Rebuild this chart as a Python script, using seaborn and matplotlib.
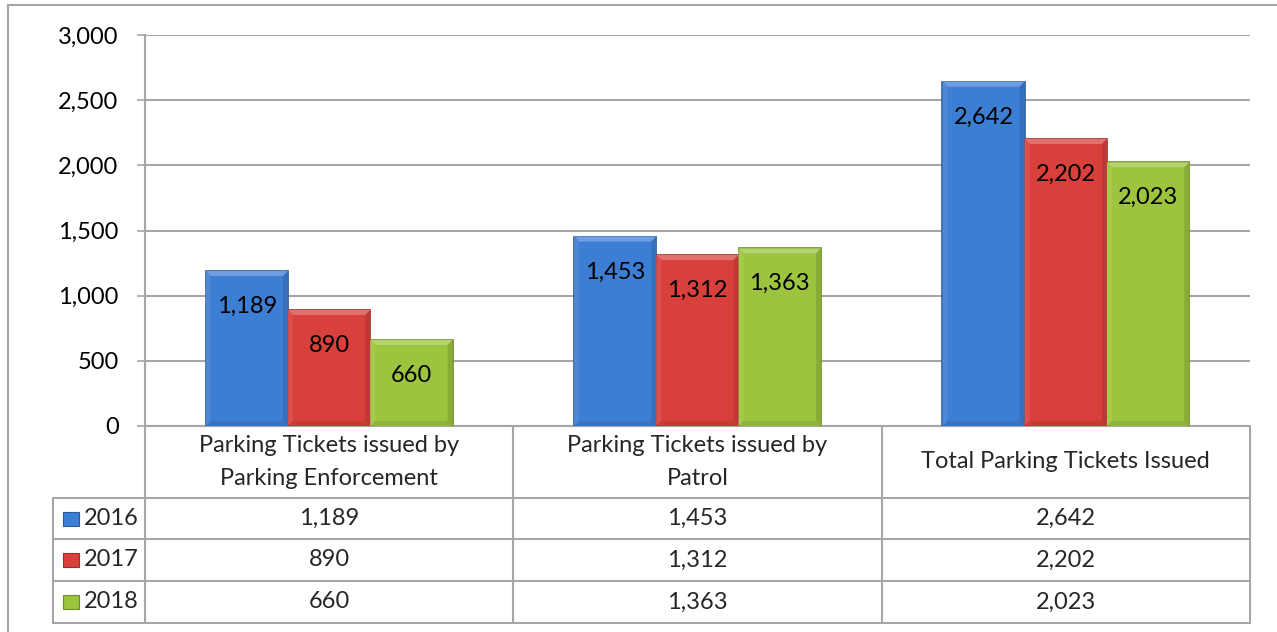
import matplotlib
matplotlib.use('Agg')
import matplotlib.pyplot as plt
import matplotlib.transforms as mtransforms
from matplotlib.patches import Rectangle, Polygon
from matplotlib.lines import Line2D
from matplotlib.ticker import FuncFormatter
import matplotlib.colors as mcolors
import pandas as pd
import seaborn as sns

categories = ['Parking Tickets issued by\nParking Enforcement',
              'Parking Tickets issued by\nPatrol',
              'Total Parking Tickets Issued']
years = ['2016', '2017', '2018']
values_2016 = [1189, 1453, 2642]
values_2017 = [890, 1312, 2202]
values_2018 = [660, 1363, 2023]
y_ticks = [0, 500, 1000, 1500, 2000, 2500, 3000]

series = {'2016': values_2016, '2017': values_2017, '2018': values_2018}
face_colors = ['#3d7ed5', '#d8403c', '#9cc43e']
edge_colors = ['#2b5a9a', '#9b2d2a', '#6d8c2b']
line_gray = '#a6a6a6'
FS = 17

rows = []
for year in years:
    for cat, val in zip(categories, series[year]):
        rows.append({'Category': cat, 'Year': year, 'Tickets': val})
df = pd.DataFrame(rows)

sns.set_theme(style='white')
plt.rcParams['font.family'] = ['Lato', 'DejaVu Sans']

W, H = 1277, 632
fig = plt.figure(figsize=(W / 100, H / 100), dpi=100)
ax = fig.add_axes([145 / W, 1 - 426 / H, 1105 / W, 391 / H])

sns.barplot(data=df, x='Category', y='Tickets', hue='Year', hue_order=years,
            palette=face_colors, saturation=1, width=0.67, gap=0,
            legend=False, ax=ax, zorder=3)


def shade(c, f):
    r, g, b = mcolors.to_rgb(c)
    if f > 0:
        return (r + (1 - r) * f, g + (1 - g) * f, b + (1 - b) * f)
    return (r * (1 + f), g * (1 + f), b * (1 + f))


# soft bevel: light top/left strip, darker right/bottom strip
bx = 5 / 1105 * 3
by = 5 / 391 * 3000
for i, cont in enumerate(ax.containers):
    for p in cont:
        p.set_edgecolor(edge_colors[i])
        p.set_linewidth(1.2)
        x0, w, h = p.get_x(), p.get_width(), p.get_height()
        x1 = x0 + w
        fc = face_colors[i]
        ax.add_patch(Polygon([(x0, h), (x1, h), (x1 - bx, h - by), (x0 + bx, h - by)],
                             facecolor=shade(fc, 0.25), edgecolor='none', zorder=3.5))
        ax.add_patch(Polygon([(x0, 0), (x0, h), (x0 + bx, h - by), (x0 + bx, by)],
                             facecolor=shade(fc, 0.08), edgecolor='none', zorder=3.5))
        ax.add_patch(Polygon([(x1, 0), (x1, h), (x1 - bx, h - by), (x1 - bx, by)],
                             facecolor=shade(fc, -0.12), edgecolor='none', zorder=3.5))
        ax.add_patch(Polygon([(x0, 0), (x1, 0), (x1 - bx, by), (x0 + bx, by)],
                             facecolor=shade(fc, -0.08), edgecolor='none', zorder=3.5))
    ax.bar_label(cont, labels=[f'{v:,}' for v in series[years[i]]],
                 padding=-33, fontsize=FS, color='black', zorder=4)

ax.set_xlim(-0.5, 2.5)
ax.set_ylim(0, 3000)
ax.set_yticks(y_ticks)
ax.yaxis.set_major_formatter(FuncFormatter(lambda v, _: f'{int(v):,}'))
ax.grid(axis='y', color=line_gray, linewidth=1.5, zorder=0)
ax.set_axisbelow(True)
ax.tick_params(axis='y', which='major', left=True, length=6, width=1.2,
               color=line_gray, pad=13, labelsize=FS, labelcolor='black')
ax.set_xticks([])
ax.set_xlabel('')
ax.set_ylabel('')
for s in ['top', 'right', 'bottom']:
    ax.spines[s].set_visible(False)
ax.spines['left'].set_color(line_gray)
ax.spines['left'].set_linewidth(1.5)

# data table under the plot (x in data units, y in axes fraction)
trans = mtransforms.blended_transform_factory(ax.transData, ax.transAxes)
row_y = [0, -72 / 391, -113 / 391, -155 / 391, -197 / 391]
legend_left = -92 / 1105


def hline(y, x0, x1, tr):
    ax.add_line(Line2D([x0, x1], [y, y], transform=tr, color=line_gray,
                       linewidth=1.5, clip_on=False))


def vline(x, y0, y1, tr):
    ax.add_line(Line2D([x, x], [y0, y1], transform=tr, color=line_gray,
                       linewidth=1.5, clip_on=False))


hline(0, -0.5, 2.5, trans)
for y in row_y[1:]:
    hline(y, legend_left, 1, ax.transAxes)
vline(0, 0, row_y[-1], ax.transAxes)
for x in [0.5, 1.5, 2.5]:
    vline(x, 0, row_y[-1], trans)
vline(legend_left, row_y[1], row_y[-1], ax.transAxes)

for j, cat in enumerate(categories):
    ax.text(j, (row_y[0] + row_y[1]) / 2, cat, transform=trans, ha='center',
            va='center', fontsize=FS, linespacing=1.65)

for i, year in enumerate(years):
    yc = (row_y[i + 1] + row_y[i + 2]) / 2
    for j, v in enumerate(series[year]):
        ax.text(j, yc, f'{v:,}', transform=trans, ha='center', va='center',
                fontsize=FS)
    ax.add_patch(Rectangle((legend_left + 10 / 1105, yc - 7 / 391), 16 / 1105, 14 / 391,
                           transform=ax.transAxes, facecolor=face_colors[i],
                           edgecolor=edge_colors[i], linewidth=0.8, clip_on=False))
    ax.text(legend_left + 31 / 1105, yc, year, transform=ax.transAxes,
            ha='left', va='center', fontsize=FS)

# outer chart border
fig.add_artist(Line2D([8 / W, 8 / W], [0, 1 - 5 / H], transform=fig.transFigure,
                      color=line_gray, linewidth=1.5))
fig.add_artist(Line2D([8 / W, 1], [1 - 5 / H, 1 - 5 / H], transform=fig.transFigure,
                      color=line_gray, linewidth=1.5))

fig.savefig('out.png', dpi=100, facecolor='white')
